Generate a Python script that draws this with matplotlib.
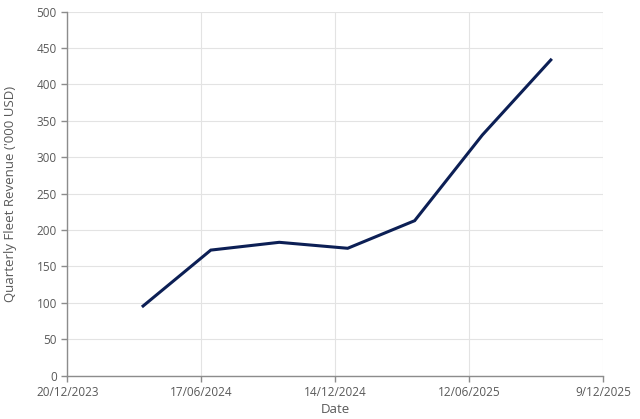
import matplotlib
matplotlib.use("Agg")
import matplotlib.pyplot as plt
import matplotlib.dates as mdates
from matplotlib.ticker import FuncFormatter
from datetime import date, timedelta

dates = [date(2024, 3, 31), date(2024, 6, 30), date(2024, 9, 30), date(2024, 12, 31),
         date(2025, 3, 31), date(2025, 6, 30), date(2025, 9, 30)]
revenue = [95.7, 172.5, 183.2, 175.0, 212.9, 330.6, 433.7]

x_start = date(2023, 12, 20)
x_ticks = [x_start + timedelta(days=180 * i) for i in range(5)]
y_ticks = list(range(0, 501, 50))

txt = "#595959"
plt.rcParams['font.family'] = ['Open Sans', 'DejaVu Sans']

fig = plt.figure(figsize=(6.4, 4.19), dpi=100)
ax = fig.add_axes([0.105, 0.1034, 0.837, 0.8687])

ax.plot(dates, revenue, color="#0c1f55", linewidth=2.2, solid_joinstyle="miter")

ax.set_xlim(x_ticks[0], x_ticks[-1])
ax.set_ylim(0, 500)
ax.set_xticks(x_ticks)
ax.set_yticks(y_ticks)
ax.xaxis.set_major_formatter(FuncFormatter(
    lambda v, p: (lambda d: f"{d.day}/{d.month:02d}/{d.year}")(mdates.num2date(v))))

ax.grid(True, color="#e3e3e3", linewidth=0.8)
ax.set_axisbelow(True)
for s in ["top", "right"]:
    ax.spines[s].set_visible(False)
for s in ["left", "bottom"]:
    ax.spines[s].set_color("#8c8c8c")
    ax.spines[s].set_linewidth(1.0)
ax.tick_params(colors="#8c8c8c", labelcolor=txt, labelsize=8.5, length=4, width=1)

ax.set_xlabel("Date", color=txt, fontsize=9.5, labelpad=3)
ax.set_ylabel("Quarterly Fleet Revenue ('000 USD)", color=txt, fontsize=9.5, labelpad=14)

fig.savefig("out.png", dpi=100)
